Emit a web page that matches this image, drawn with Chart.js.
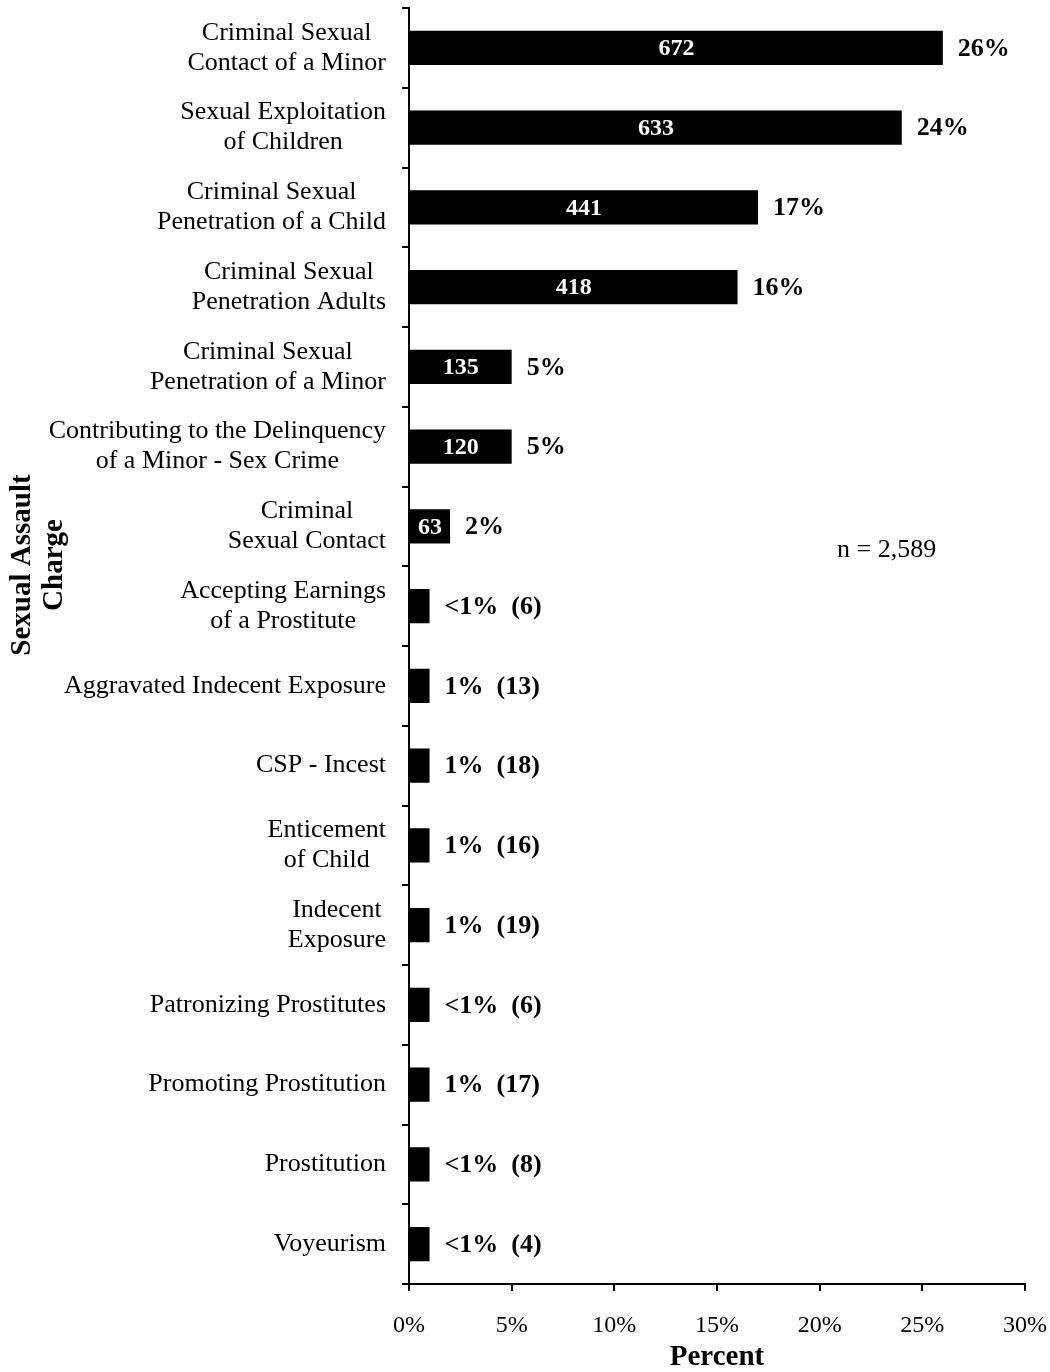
<!DOCTYPE html>
<html>
<head>
<meta charset="utf-8">
<title>Sexual Assault Charge</title>
<script src="https://cdn.jsdelivr.net/npm/chart.js@4.4.1/dist/chart.umd.min.js"></script>
<style>
  html, body { margin: 0; padding: 0; background: #fff; }
</style>
</head>
<body>
<canvas id="chart" width="1050" height="1372"></canvas>
<script>
// chart data
const categories = [
  ['Criminal Sexual', 'Contact of a Minor'],
  ['Sexual Exploitation', 'of Children'],
  ['Criminal Sexual', 'Penetration of a Child'],
  ['Criminal Sexual', 'Penetration Adults'],
  ['Criminal Sexual', 'Penetration of a Minor'],
  ['Contributing to the Delinquency', 'of a Minor - Sex Crime'],
  ['Criminal', 'Sexual Contact'],
  ['Accepting Earnings', 'of a Prostitute'],
  'Aggravated Indecent Exposure',
  'CSP - Incest',
  ['Enticement', 'of Child'],
  ['Indecent', 'Exposure'],
  'Patronizing Prostitutes',
  'Promoting Prostitution',
  'Prostitution',
  'Voyeurism'
];
const counts = [672, 633, 441, 418, 135, 120, 63, 6, 13, 18, 16, 19, 6, 17, 8, 4];
const percents = [26, 24, 17, 16, 5, 5, 2, 1, 1, 1, 1, 1, 1, 1, 1, 1];
const percentLabels = ['26%', '24%', '17%', '16%', '5%', '5%', '2%', '<1%', '1%', '1%', '1%', '1%', '<1%', '1%', '<1%', '<1%'];
const xTicks = [0, 5, 10, 15, 20, 25, 30];
const sampleNote = 'n = 2,589';
const yTitle = ['Sexual Assault', 'Charge'];
const xTitle = 'Percent';

const FONT = '"Liberation Serif", "Times New Roman", serif';

// category labels: two-line labels are centred as a block, block right-aligned
const categoryLabels = {
    id: 'categoryLabels',
    afterDraw(chart) {
        const ctx = chart.ctx;
        const yScale = chart.scales.y;
        const right = chart.chartArea.left - 23;
        ctx.save();
        ctx.font = '26px ' + FONT;
        ctx.fillStyle = '#000';
        ctx.textBaseline = 'middle';
        ctx.textAlign = 'center';
        categories.forEach((label, i) => {
            const lines = Array.isArray(label) ? label : [label];
            const cy = yScale.getPixelForValue(i);
            const widest = Math.max(...lines.map(l => ctx.measureText(l).width));
            const cx = right - widest / 2;
            lines.forEach((line, j) => {
                ctx.fillText(line, cx, cy + (j - (lines.length - 1) / 2) * 30);
            });
        });
        ctx.restore();
    }
};

// value labels on and after the bars
const barLabels = {
    id: 'barLabels',
    afterDatasetsDraw(chart) {
        const ctx = chart.ctx;
        const meta = chart.getDatasetMeta(0);
        ctx.save();
        ctx.textBaseline = 'middle';
        meta.data.forEach((bar, i) => {
            const p = bar.getProps(['x', 'y', 'base'], true);
            const inside = counts[i] >= 50;
            let text = percentLabels[i];
            if (!inside) text += '  (' + counts[i] + ')';
            ctx.font = 'bold 26px ' + FONT;
            ctx.fillStyle = '#000';
            ctx.textAlign = 'left';
            ctx.fillText(text, p.x + 15, p.y + 1);
            if (inside) {
                ctx.font = 'bold 24px ' + FONT;
                ctx.fillStyle = '#fff';
                ctx.textAlign = 'center';
                ctx.fillText(String(counts[i]), (p.base + p.x) / 2, p.y + 1);
            }
        });
        ctx.restore();
    }
};

// y axis title (sits above the axis middle in the original) and sample size note
const extraText = {
    id: 'extraText',
    afterDraw(chart) {
        const ctx = chart.ctx;
        ctx.save();
        ctx.fillStyle = '#000';
        ctx.font = 'bold 29px ' + FONT;
        ctx.textAlign = 'center';
        ctx.textBaseline = 'middle';
        yTitle.forEach((line, j) => {
            ctx.save();
            ctx.translate(23 + j * 32, 565);
            ctx.rotate(-Math.PI / 2);
            ctx.fillText(line, 0, 0);
            ctx.restore();
        });
        ctx.font = '26px ' + FONT;
        ctx.textAlign = 'left';
        ctx.textBaseline = 'alphabetic';
        ctx.fillText(sampleNote, 837, 557);
        ctx.restore();
    }
};

const chart = new Chart(document.getElementById('chart'), {
    type: 'bar',
    data: {
        labels: categories,
        datasets: [{
            data: percents,
            backgroundColor: '#000',
            borderWidth: 0,
            barPercentage: 0.43,
            categoryPercentage: 1
        }]
    },
    options: {
        indexAxis: 'y',
        responsive: false,
        animation: false,
        devicePixelRatio: 1,
        layout: { padding: { top: 8, right: 0, bottom: 0, left: 0 } },
        plugins: {
            legend: { display: false },
            tooltip: { enabled: false }
        },
        scales: {
            x: {
                min: 0,
                max: 30,
                afterBuildTicks: s => { s.ticks = xTicks.map(v => ({ value: v })); },
                afterFit: s => { s.height = 88; s.paddingLeft = 0; s.paddingRight = 25; },
                grid: { drawOnChartArea: false, drawTicks: true, tickLength: 7, color: '#000', lineWidth: 2 },
                border: { display: true, color: '#000', width: 2 },
                ticks: {
                    padding: 20,
                    color: '#000',
                    font: { family: FONT, size: 24 },
                    callback: v => v + '%'
                },
                title: {
                    display: true,
                    text: xTitle,
                    color: '#000',
                    font: { family: FONT, size: 29, weight: 'bold', lineHeight: 1 },
                    padding: { top: 0, bottom: 0 }
                }
            },
            y: {
                afterFit: s => { s.width = 409; },
                grid: { drawOnChartArea: false, drawTicks: true, tickLength: 7, color: '#000', lineWidth: 2, offset: true },
                border: { display: true, color: '#000', width: 2 },
                ticks: { display: false }
            }
        }
    },
    plugins: [categoryLabels, barLabels, extraText]
});
</script>
</body>
</html>
